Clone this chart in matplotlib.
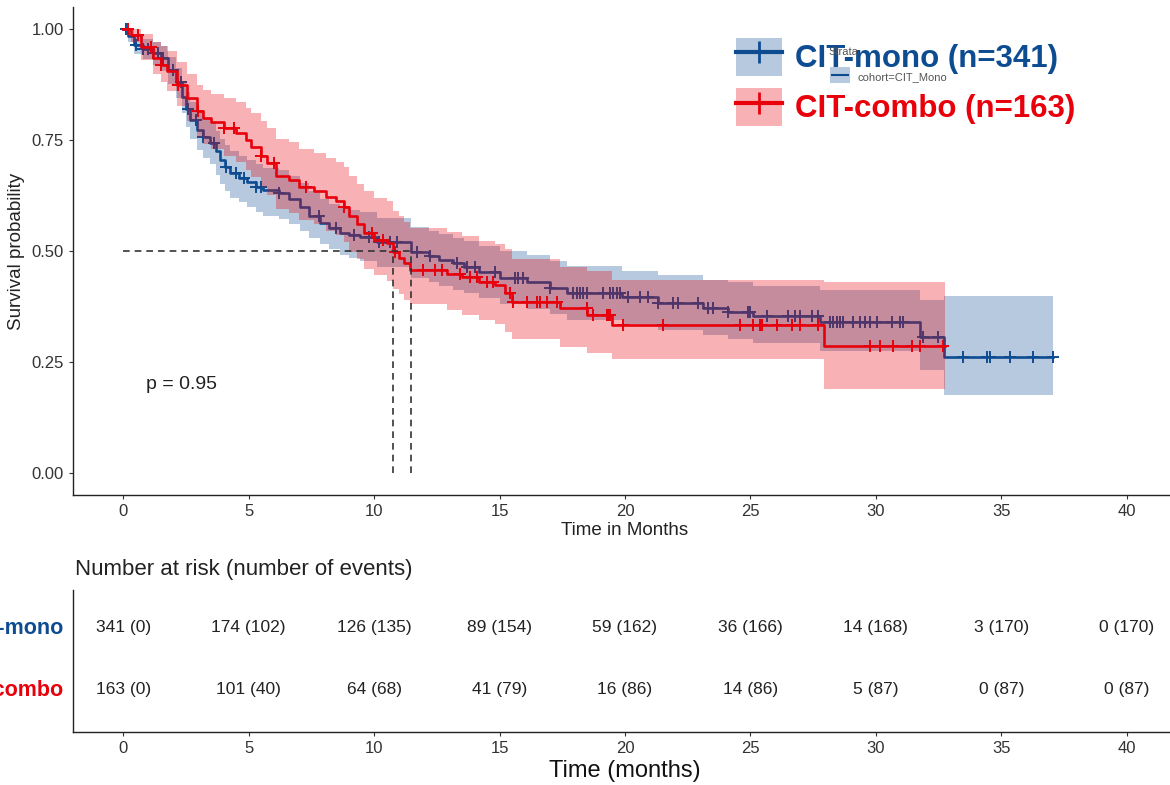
import numpy as np
import matplotlib.pyplot as plt
from matplotlib.patches import Patch, Rectangle
from matplotlib.lines import Line2D

plt.rcParams['font.family'] = ['Liberation Sans', 'DejaVu Sans']

# Kaplan-Meier steps (time of drop, survival after drop) and 95% CI per step
mono_t = [0, 0.2, 0.45, 0.8, 1.2, 1.5, 1.8, 2.1, 2.35, 2.5, 2.67, 2.95, 3.2, 3.47, 3.7, 3.86, 4.05, 4.26, 4.6, 4.94,
          5.3, 5.58, 6.2, 6.6, 7.05, 7.4, 7.85, 8.2, 8.65, 9.0, 9.44, 10.1, 11.47, 12.2, 12.6, 13.15, 13.6, 14.2, 15.0, 16.1,
          17.0, 17.7, 19.9, 21.3, 23.1, 24.1, 25.1, 27.77, 31.75, 32.7]
mono_s = [1.0, 0.985, 0.964, 0.955, 0.946, 0.935, 0.908, 0.88, 0.847, 0.82, 0.795, 0.773, 0.758, 0.743, 0.725, 0.705, 0.69, 0.676, 0.665, 0.655,
          0.645, 0.637, 0.63, 0.618, 0.599, 0.58, 0.563, 0.552, 0.541, 0.537, 0.532, 0.52, 0.498, 0.488, 0.48, 0.473, 0.465, 0.453, 0.44, 0.43,
          0.417, 0.405, 0.396, 0.383, 0.371, 0.363, 0.354, 0.340, 0.306, 0.262]
mono_lo = [1.0, 0.97, 0.945, 0.932, 0.92, 0.905, 0.876, 0.845, 0.81, 0.78, 0.752, 0.728, 0.71, 0.695, 0.672, 0.65, 0.635, 0.62, 0.61, 0.60,
           0.588, 0.58, 0.572, 0.56, 0.545, 0.53, 0.515, 0.505, 0.49, 0.485, 0.478, 0.465, 0.44, 0.43, 0.42, 0.413, 0.405, 0.393, 0.38, 0.37,
           0.357, 0.345, 0.336, 0.322, 0.31, 0.302, 0.293, 0.275, 0.232, 0.176]
mono_hi = [1.0, 1.0, 0.984, 0.977, 0.97, 0.962, 0.938, 0.912, 0.882, 0.858, 0.835, 0.815, 0.8, 0.788, 0.77, 0.752, 0.738, 0.725, 0.715, 0.705,
           0.695, 0.688, 0.682, 0.67, 0.653, 0.635, 0.618, 0.607, 0.597, 0.593, 0.588, 0.575, 0.553, 0.545, 0.538, 0.53, 0.523, 0.512, 0.5, 0.49,
           0.478, 0.466, 0.456, 0.445, 0.435, 0.43, 0.42, 0.412, 0.39, 0.399]
mono_end = 37.05
mono_cens = [0.1, 0.5, 0.8, 1.0, 1.2, 1.4, 1.6, 2.0, 2.3, 2.6, 2.9, 3.2, 3.6, 4.1, 4.5, 4.8, 5.3, 5.5, 6.2, 7.8, 8.5, 9.2, 9.8, 10.2,
             10.64, 10.92, 11.71, 12.23, 13.31, 13.71, 14.02, 14.82, 15.62, 15.74, 15.94, 17.01, 17.93, 18.09, 18.21, 18.33,
             18.49, 19.12, 19.40, 19.52, 19.68, 19.80, 20.12, 20.6, 20.9, 21.3, 21.9, 22.1, 22.9, 23.3, 23.5, 24.1, 24.9, 25.0,
             25.66, 26.49, 26.77, 26.97, 27.45, 27.69, 28.17, 28.29, 28.45, 28.57, 28.69, 29.08, 29.36, 29.56, 29.76, 30.04,
             30.64, 30.96, 31.08, 31.87, 32.47, 33.47, 34.42, 34.54, 35.34, 36.25, 37.05]

combo_t = [0, 0.3, 0.7, 1.2, 1.5, 1.75, 2.15, 2.55, 2.95, 3.2, 3.5, 4.0, 4.5, 4.9, 5.1, 5.5, 5.75, 6.1, 6.6, 7.0,
           7.6, 8.1, 8.5, 8.8, 9.0, 9.3, 9.6, 10.0, 10.5, 10.75, 11.0, 11.2, 11.45, 12.9, 13.5, 14.2, 14.8, 15.2, 15.5, 17.4,
           18.5, 19.5, 27.95]
combo_s = [1.0, 0.988, 0.96, 0.935, 0.92, 0.905, 0.875, 0.845, 0.815, 0.80, 0.79, 0.777, 0.765, 0.75, 0.735, 0.715, 0.698, 0.668, 0.66, 0.644,
           0.635, 0.622, 0.612, 0.600, 0.578, 0.56, 0.541, 0.525, 0.518, 0.497, 0.485, 0.472, 0.457, 0.449, 0.441, 0.43, 0.423, 0.405, 0.385, 0.371,
           0.356, 0.333, 0.286]
combo_lo = [1.0, 0.97, 0.93, 0.898, 0.88, 0.86, 0.826, 0.792, 0.758, 0.742, 0.73, 0.715, 0.70, 0.683, 0.666, 0.645, 0.626, 0.595, 0.585, 0.57,
            0.56, 0.545, 0.535, 0.52, 0.498, 0.482, 0.46, 0.445, 0.432, 0.415, 0.402, 0.39, 0.38, 0.367, 0.356, 0.345, 0.335, 0.318, 0.302, 0.284,
            0.27, 0.257, 0.19]
combo_hi = [1.0, 1.0, 0.99, 0.972, 0.962, 0.95, 0.925, 0.9, 0.875, 0.862, 0.855, 0.845, 0.835, 0.822, 0.81, 0.792, 0.778, 0.752, 0.745, 0.73,
            0.722, 0.71, 0.70, 0.69, 0.668, 0.652, 0.635, 0.62, 0.612, 0.59, 0.578, 0.566, 0.552, 0.542, 0.533, 0.522, 0.515, 0.505, 0.482, 0.465,
            0.455, 0.435, 0.43]
combo_end = 32.75
combo_cens = [0.2, 0.6, 1.1, 1.5, 2.2, 3.0, 4.0, 4.4, 5.5, 6.0, 7.3, 8.8, 9.9,
              10.36, 10.84, 11.95, 12.43, 12.71, 13.43, 13.82, 14.1, 14.5, 14.74, 15.42, 15.54, 16.1, 16.49, 16.61, 16.89,
              17.29, 18.49, 18.73, 19.28, 19.32, 19.40, 19.92, 21.51, 24.58, 25.1, 25.38, 26.06, 25.46, 26.65, 26.97, 27.69,
              29.76, 30.16, 30.68, 31.43, 31.75, 32.67]

medians = [10.75, 11.47]

risk_times = [0, 5, 10, 15, 20, 25, 30, 35, 40]
mono_risk = [341, 174, 126, 89, 59, 36, 14, 3, 0]
mono_events = [0, 102, 135, 154, 162, 166, 168, 170, 170]
combo_risk = [163, 101, 64, 41, 16, 14, 5, 0, 0]
combo_events = [0, 40, 68, 79, 86, 86, 87, 87, 87]

BLUE = '#0E4C92'
RED = '#E8000B'

W, H = 1170, 785
fig = plt.figure(figsize=(W / 100, H / 100), dpi=100)
ax = fig.add_axes([73 / W, 1 - 495 / H, (1177 - 73) / W, 488 / H])
tab = fig.add_axes([73 / W, 1 - 732 / H, (1177 - 73) / W, 142 / H])


def extend(t, vals, t_end):
    return np.append(t, t_end), np.append(vals, vals[-1])


def draw_group(t, s, lo, hi, end, cens, color, z):
    x, y = extend(t, s, end)
    _, ylo = extend(t, lo, end)
    _, yhi = extend(t, hi, end)
    ax.fill_between(x, ylo, yhi, step='post', color=color, alpha=0.3, lw=0, zorder=z)
    ax.step(x, y, where='post', color=color, lw=1.9, zorder=z + 1)
    idx = np.searchsorted(t, cens, side='right') - 1
    cy = np.asarray(s)[idx]
    ax.plot(cens, cy, ls='none', marker='+', ms=8, mew=1.4, color=color, zorder=z + 1)


draw_group(np.array(mono_t), mono_s, mono_lo, mono_hi, mono_end, mono_cens, BLUE, 1)
draw_group(np.array(combo_t), combo_s, combo_lo, combo_hi, combo_end, combo_cens, RED, 3)

# median survival guides
ax.plot([0, max(medians)], [0.5, 0.5], ls=(0, (4, 3)), color='#333333', lw=1.2, zorder=6)
for m in medians:
    ax.plot([m, m], [0, 0.5], ls=(0, (4, 3)), color='#333333', lw=1.2, zorder=6)

ax.text(0.9, 0.2, 'p = 0.95', fontsize=14, color='#222222', va='center')

ax.set_xlim(-2, 42)
ax.set_ylim(-0.05, 1.05)
ax.set_xticks(risk_times)
ax.set_yticks([0, 0.25, 0.5, 0.75, 1.0])
ax.set_yticklabels(['0.00', '0.25', '0.50', '0.75', '1.00'])
ax.set_xlabel('Time in Months', fontsize=13.5, color='#222222', labelpad=2)
ax.set_ylabel('Survival probability', fontsize=13.5, color='#222222', labelpad=5)
for a in (ax, tab):
    a.spines[['top', 'right']].set_visible(False)
    a.spines[['left', 'bottom']].set_color('#222222')
    a.spines[['left', 'bottom']].set_linewidth(1.0)
    a.tick_params(length=3, color='#333333', labelsize=12, labelcolor='#333333')

# legend
h_mono = (Patch(facecolor=BLUE, alpha=0.3, lw=0), Line2D([], [], color=BLUE, lw=3, marker='+', ms=16, mew=2))
h_combo = (Patch(facecolor=RED, alpha=0.3, lw=0), Line2D([], [], color=RED, lw=3, marker='+', ms=16, mew=2))
leg = ax.legend([h_mono, h_combo], ['CIT-mono (n=341)', 'CIT-combo (n=163)'],
                loc='upper left', bbox_to_anchor=(723 / W, 1 - 25 / H), bbox_transform=fig.transFigure,
                frameon=False, prop={'weight': 'bold', 'size': 22.5}, handlelength=1.5, handleheight=1.5,
                handletextpad=0.4, labelspacing=0.4, borderaxespad=0)
for txt, c in zip(leg.get_texts(), [BLUE, RED]):
    txt.set_color(c)

# leftover strata key underneath
fig.text(828 / W, 1 - 52 / H, 'Strata', fontsize=8, color='#555555', va='center', zorder=0)
fig.patches.append(Rectangle((830 / W, 1 - 83 / H), 20 / W, 16 / H, transform=fig.transFigure,
                             facecolor=BLUE, alpha=0.3, lw=0, zorder=0))
fig.lines.append(Line2D([832 / W, 848 / W], [1 - 75 / H, 1 - 75 / H], transform=fig.transFigure,
                        color=BLUE, lw=1.5, zorder=0))
fig.text(858 / W, 1 - 77 / H, 'cohort=CIT_Mono', fontsize=8, color='#555555', va='center', zorder=0)

# risk table
for i, x in enumerate(risk_times):
    tab.text(x, 2, f'{mono_risk[i]} ({mono_events[i]})', ha='center', va='center', fontsize=12.5, color='#222222')
    tab.text(x, 1, f'{combo_risk[i]} ({combo_events[i]})', ha='center', va='center', fontsize=12.5, color='#222222')
tab.set_xlim(-2, 42)
tab.set_ylim(0.32, 2.61)
tab.set_xticks(risk_times)
tab.set_yticks([])
tab.set_xlabel('Time (months)', fontsize=17, color='#111111', labelpad=3)
fig.text(75 / W, 1 - 570 / H, 'Number at risk (number of events)', fontsize=16, color='#222222', va='center')
fig.text(63 / W, 1 - 628 / H, 'CIT-mono', fontsize=15.5, weight='bold', color=BLUE, ha='right', va='center')
fig.text(63 / W, 1 - 690 / H, 'CIT-combo', fontsize=15.5, weight='bold', color=RED, ha='right', va='center')

fig.savefig('out.png', dpi=100)
